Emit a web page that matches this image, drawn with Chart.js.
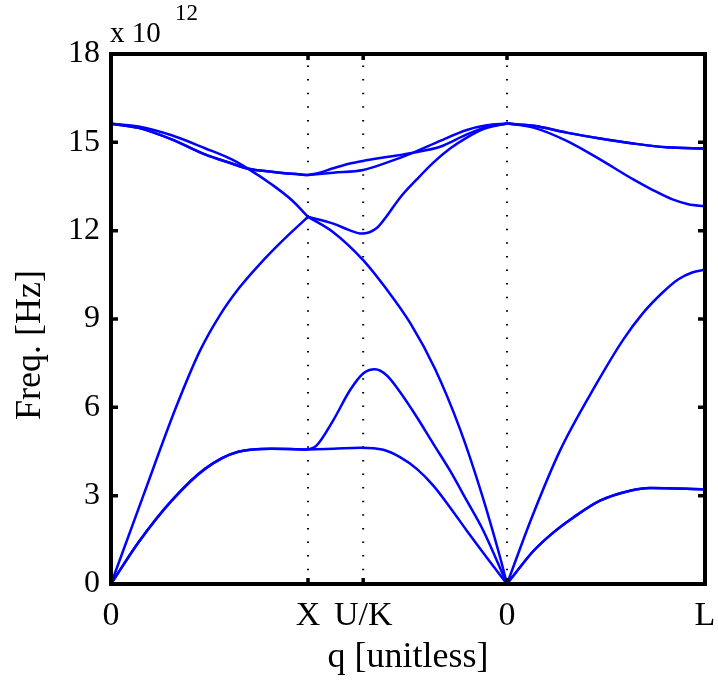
<!DOCTYPE html>
<html>
<head>
<meta charset="utf-8">
<script src="https://cdn.jsdelivr.net/npm/chart.js@4.4.1/dist/chart.umd.min.js"></script>
<style>
  html, body { margin: 0; padding: 0; background: #ffffff; }
  canvas { display: block; }
</style>
</head>
<body>
<canvas id="dispersion" width="718" height="680"></canvas>
<script>
// Puntos de alta simetría sobre el eje q
const qTicks = [0, 1.0, 1.28, 2.01, 3.015];
const qLabels = ['0', 'X', 'U/K', '0', 'L'];
const freqTicks = [0, 3, 6, 9, 12, 15, 18];

// Ramas: [q, frecuencia (x 1e12 Hz)]
// Tramo Gamma-X
const taGX = [[0,0],[0.139,1.41],[0.308,2.83],[0.477,3.91],[0.646,4.49],[0.816,4.59],[1.0,4.57]];
const laGX = [[0,0],[0.164,3.0],[0.330,6.0],[0.45,7.9],[0.55,9.1],[0.65,10.05],[0.76,10.9],[0.88,11.72],[1.0,12.47]];
const loGX = [[0,15.63],[0.139,15.54],[0.308,15.24],[0.477,14.80],[0.613,14.42],[0.697,14.10],[0.816,13.57],[0.917,13.04],[1.0,12.47]];
const toGX = [[0,15.63],[0.139,15.49],[0.308,15.10],[0.477,14.59],[0.613,14.28],[0.697,14.10],[0.816,14.00],[0.917,13.93],[1.0,13.89]];

// Tramo X-U/K-Gamma
const ta1XG = [[1.0,4.57],[1.04,4.68],[1.128,5.56],[1.213,6.58],[1.28,7.15],[1.34,7.29],[1.399,7.09],[1.467,6.52],[1.552,5.67],[1.636,4.76],[1.721,3.85],[1.806,2.83],[1.890,1.81],[2.01,0]];
const ta2XG = [[1.0,4.57],[1.128,4.59],[1.264,4.63],[1.382,4.56],[1.467,4.31],[1.552,3.91],[1.636,3.34],[1.721,2.60],[1.806,1.81],[1.907,0.90],[2.01,0]];
const laXG = [[1.0,12.47],[1.128,11.95],[1.28,11.0],[1.40,10.0],[1.52,8.85],[1.645,7.3],[1.772,5.25],[1.882,3.05],[1.98,0.78],[2.01,0]];
const loXG = [[1.0,12.47],[1.128,12.24],[1.213,12.01],[1.273,11.90],[1.349,12.09],[1.399,12.49],[1.467,13.12],[1.552,13.74],[1.636,14.31],[1.721,14.79],[1.806,15.16],[1.890,15.45],[2.01,15.64]];
const to1XG = [[1.0,13.89],[1.05,13.95],[1.128,14.12],[1.213,14.28],[1.28,14.37],[1.399,14.50],[1.535,14.65],[1.670,14.85],[1.806,15.27],[1.907,15.52],[2.01,15.64]];
const to2XG = [[1.0,13.89],[1.128,13.97],[1.28,14.06],[1.399,14.31],[1.535,14.65],[1.670,15.05],[1.806,15.42],[1.907,15.58],[2.01,15.64]];

// Tramo Gamma-L
const taGL = [[2.01,0],[2.07,0.52],[2.144,1.12],[2.24,1.72],[2.347,2.26],[2.482,2.83],[2.635,3.17],[2.736,3.26],[3.015,3.22]];
const laGL = [[2.01,0],[2.136,2.26],[2.279,4.53],[2.465,6.81],[2.60,8.3],[2.70,9.2],[2.80,9.9],[2.88,10.35],[2.95,10.58],[3.015,10.67]];
const loGL = [[2.01,15.64],[2.144,15.50],[2.313,15.05],[2.482,14.42],[2.651,13.74],[2.75,13.38],[2.85,13.06],[2.93,12.90],[3.015,12.83]];
const toGL = [[2.01,15.64],[2.144,15.56],[2.313,15.33],[2.482,15.13],[2.651,14.96],[2.821,14.83],[3.015,14.79]];

const FONT = "'Liberation Serif', 'Times New Roman', serif";

// Une los tramos de una rama, cortando la línea entre ellos
function joinSegments(...segs) {
    const out = [];
    segs.forEach((seg, i) => {
        if (i > 0) out.push({ x: seg[0][0], y: null });
        seg.forEach(p => out.push({ x: p[0], y: p[1] }));
    });
    return out;
}

const branches = [
    joinSegments(taGX, ta1XG, taGL),
    joinSegments(taGX, ta2XG, taGL),
    joinSegments(laGX, laXG, laGL),
    joinSegments(loGX, loXG, loGL),
    joinSegments(toGX, to1XG, toGL),
    joinSegments(toGX, to2XG, toGL)
];

const datasets = branches.map(data => ({
    data: data,
    borderColor: '#0000ff',
    borderWidth: 2.5,
    pointRadius: 0,
    showLine: true,
    cubicInterpolationMode: 'monotone'
}));

// Líneas punteadas en X, U/K y Gamma (se dibujan debajo)
qTicks.slice(1, 4).forEach(q => {
    datasets.push({
        data: [{ x: q, y: 0 }, { x: q, y: 18 }],
        borderColor: '#000000',
        borderWidth: 2,
        borderDash: [1.5, 12.1],
        borderDashOffset: 13.4,
        pointRadius: 0,
        showLine: true,
        tension: 0
    });
});

// Marco estilo MATLAB, marcas hacia dentro y textos extra
const framePlugin = {
    id: 'matlabFrame',
    afterDatasetsDraw(chart) {
        const { ctx, chartArea: a, scales } = chart;
        ctx.save();
        ctx.strokeStyle = '#000';
        ctx.lineWidth = 3.5;
        ctx.lineCap = 'butt';
        freqTicks.forEach(v => {
            const py = scales.y.getPixelForValue(v);
            ctx.beginPath();
            ctx.moveTo(a.left, py); ctx.lineTo(a.left + 7, py);
            ctx.moveTo(a.right, py); ctx.lineTo(a.right - 7, py);
            ctx.stroke();
        });
        qTicks.forEach(v => {
            const px = scales.x.getPixelForValue(v);
            ctx.beginPath();
            ctx.moveTo(px, a.bottom); ctx.lineTo(px, a.bottom - 6);
            ctx.moveTo(px, a.top); ctx.lineTo(px, a.top + 6);
            ctx.stroke();
        });
        ctx.lineWidth = 4;
        ctx.lineJoin = 'miter';
        ctx.strokeRect(a.left, a.top, a.right - a.left, a.bottom - a.top);

        ctx.fillStyle = '#000';
        // Título del eje Y
        ctx.save();
        ctx.translate(31, 345);
        ctx.rotate(-Math.PI / 2);
        ctx.font = '36px ' + FONT;
        ctx.textAlign = 'center';
        ctx.textBaseline = 'middle';
        ctx.fillText('Freq. [Hz]', 0, 0);
        ctx.restore();

        // Factor de escala
        ctx.textAlign = 'left';
        ctx.textBaseline = 'alphabetic';
        ctx.font = '29px ' + FONT;
        ctx.fillText('x 10', a.left - 1, 42);
        ctx.font = '23px ' + FONT;
        ctx.fillText('12', 175, 20);
        ctx.restore();
    }
};

const ctx = document.getElementById('dispersion').getContext('2d');
new Chart(ctx, {
    type: 'scatter',
    data: { datasets: datasets },
    options: {
        responsive: false,
        animation: false,
        devicePixelRatio: 1,
        layout: { padding: { top: 54, right: 13, bottom: 0, left: 0 } },
        plugins: { legend: { display: false }, tooltip: { enabled: false } },
        scales: {
            x: {
                type: 'linear',
                min: 0,
                max: 3.015,
                afterBuildTicks: scale => { scale.ticks = qTicks.map(v => ({ value: v })); },
                afterFit: scale => {
                    scale.height = 96;
                    scale.paddingLeft = 0;
                    scale.paddingRight = 0;
                },
                grid: { display: false, drawTicks: false },
                border: { display: false },
                ticks: {
                    autoSkip: false,
                    maxRotation: 0,
                    padding: 12,
                    color: '#000',
                    font: { family: FONT, size: 34 },
                    callback: (value, index) => qLabels[index]
                },
                title: {
                    display: true,
                    text: 'q [unitless]',
                    color: '#000',
                    font: { family: FONT, size: 36 },
                    padding: { top: 0, bottom: 1 }
                }
            },
            y: {
                min: 0,
                max: 18,
                afterFit: scale => { scale.width = 111; },
                grid: { display: false, drawTicks: false },
                border: { display: false },
                ticks: {
                    stepSize: 3,
                    padding: 11,
                    color: '#000',
                    font: { family: FONT, size: 32 }
                }
            }
        }
    },
    plugins: [framePlugin]
});
</script>
</body>
</html>
